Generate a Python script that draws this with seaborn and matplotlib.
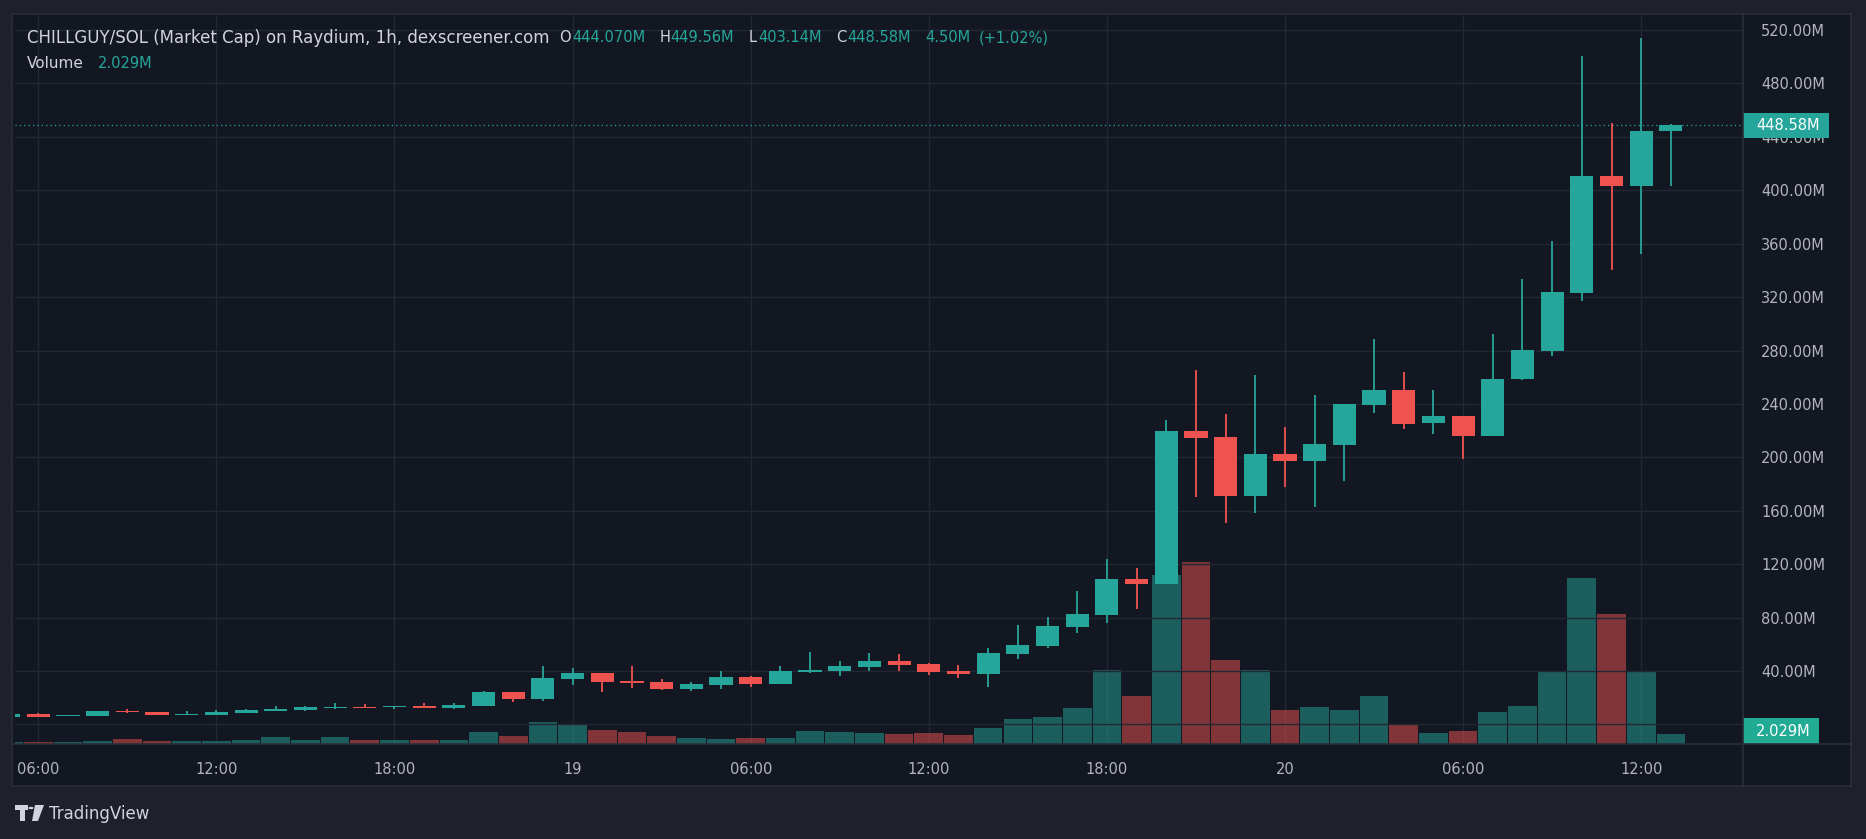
import numpy as np
import pandas as pd
import matplotlib
matplotlib.use("Agg")
import matplotlib.pyplot as plt
import seaborn as sns
from matplotlib.patches import Rectangle, Polygon, Circle
from matplotlib.lines import Line2D
from matplotlib import transforms

# ---------------- data (market cap in millions, hourly candles) ----------------
candle_times = pd.date_range("2024-11-18 05:00", periods=57, freq="h")

opens = [5.5, 7.8, 6.3, 6.3, 10.1, 9.3, 7.05, 7.05, 8.6, 10.1, 10.8, 12.3, 13.1, 13.1, 13.9, 12.3,
         13.9, 24.4, 19.2, 34.3, 38.8, 32.8, 32.0, 26.8, 29.8, 35.8, 30.5, 39.5, 40.3, 43.3, 47.8,
         45.5, 40.3, 38.0, 52.8, 58.8, 73.0, 82.0, 108.8, 105.3, 219.8, 215.3, 171.3, 202.5, 197.5,
         209.5, 239.5, 250.5, 225.4, 230.9, 215.8, 258.4, 280.0, 323.0, 410.7, 403.1, 444.07]
highs = [7.8, 8.6, 7.05, 10.1, 11.6, 9.3, 10.1, 10.8, 11.6, 13.9, 13.9, 16.1, 15.4, 13.9, 16.1, 16.1,
         25.2, 24.5, 44.0, 42.5, 38.8, 44.0, 34.3, 32.0, 40.3, 36.5, 44.0, 54.5, 47.8, 53.8, 53.0,
         46.3, 44.8, 57.5, 74.3, 80.3, 99.8, 123.8, 117.0, 228.0, 265.5, 232.5, 261.8, 222.8, 246.8,
         240.0, 288.8, 264.0, 250.5, 230.9, 292.4, 333.7, 361.9, 500.3, 450.2, 514.1, 449.56]
lows = [5.5, 5.5, 6.3, 6.3, 8.6, 7.05, 7.05, 7.05, 8.6, 10.1, 10.1, 11.6, 12.3, 11.6, 12.3, 11.6,
        13.9, 17.0, 17.8, 29.8, 24.5, 27.5, 26.0, 25.3, 26.8, 28.3, 30.5, 38.8, 36.5, 40.3, 40.3,
        37.3, 35.0, 28.3, 48.8, 57.3, 68.5, 76.0, 86.5, 105.0, 170.5, 151.0, 158.5, 178.0, 163.0,
        182.5, 233.5, 221.5, 217.2, 198.6, 215.8, 258.0, 276.0, 317.2, 340.5, 352.2, 403.14]
closes = [7.8, 5.5, 7.05, 10.1, 9.3, 7.05, 7.8, 9.3, 10.8, 11.6, 13.1, 13.1, 12.3, 13.9, 12.3, 14.6,
          24.4, 19.2, 35.0, 38.8, 32.0, 31.3, 26.8, 30.5, 35.8, 30.5, 40.3, 41.0, 44.0, 47.8, 44.8,
          39.5, 38.0, 53.8, 59.3, 73.5, 82.5, 108.8, 105.3, 219.8, 214.8, 171.3, 202.5, 197.5, 210.0,
          240.0, 250.5, 225.3, 230.9, 215.8, 258.8, 280.4, 323.7, 410.7, 403.1, 444.3, 448.58]
volumes = [0.4, 0.4, 0.4, 0.6, 1.0, 0.6, 0.6, 0.6, 0.8, 1.4, 0.8, 1.4, 0.8, 0.8, 0.8, 0.8,
           2.4, 1.6, 4.5, 3.85, 2.8, 2.4, 1.6, 1.2, 1.0, 1.2, 1.2, 2.6, 2.4, 2.2, 2.0,
           2.2, 1.8, 3.2, 5.1, 5.5, 7.3, 15.0, 9.7, 34.3, 36.9, 17.0, 15.0, 6.9, 7.5,
           6.9, 9.7, 3.85, 2.2, 2.6, 6.5, 7.8, 14.5, 33.6, 26.3, 14.9, 2.029]

time_tick_labels = ["06:00", "12:00", "18:00", "19", "06:00", "12:00", "18:00", "20", "06:00", "12:00"]
time_tick_times = pd.to_datetime(["2024-11-18 06:00", "2024-11-18 12:00", "2024-11-18 18:00",
                                  "2024-11-19 00:00", "2024-11-19 06:00", "2024-11-19 12:00",
                                  "2024-11-19 18:00", "2024-11-20 00:00", "2024-11-20 06:00",
                                  "2024-11-20 12:00"])
price_ticks = [0, 40, 80, 120, 160, 200, 240, 280, 320, 360, 400, 440, 480, 520]

last_price = 448.58
last_volume = 2.029

# ---------------- styling ----------------
BG = "#131722"
OUTER = "#1e212b"
GRID = "#232733"
BORDER = "#2a2e39"
TXT = "#d1d4dc"
AXT = "#b2b5be"
UP = "#26a69a"
DOWN = "#ef5350"

sns.set_theme(style="dark")
plt.rcParams["font.family"] = ["DejaVu Sans"]

t0 = pd.Timestamp("2024-11-18 06:00")
df = pd.DataFrame({
    "x": (candle_times - t0) / pd.Timedelta(hours=1),
    "open": opens, "high": highs, "low": lows, "close": closes, "volume": volumes,
})
df["dir"] = np.where(df["close"] >= df["open"], "up", "down")
tick_x = (time_tick_times - t0) / pd.Timedelta(hours=1)

W, H = 1866, 839
fig = plt.figure(figsize=(W / 100, H / 100), dpi=100)
fig.patch.set_facecolor(OUTER)


def fx(px):
    return px / W


def fy(py):
    return 1 - py / H


# chart frame (behind the axes)
fig.patches.append(Rectangle((fx(12), fy(786)), fx(1851) - fx(12), fy(14) - fy(786),
                             transform=fig.transFigure, facecolor=BG, edgecolor=BORDER,
                             lw=1.2, zorder=-5))

axv = fig.add_axes([fx(15), fy(744), fx(1743) - fx(15), fy(15) - fy(744)])
axv.set_facecolor(BG)
ax = axv.twinx()
ax.patch.set_visible(False)

# volume bars (seaborn)
sns.barplot(data=df, x="x", y="volume", hue="dir", palette={"up": UP, "down": DOWN},
            native_scale=True, width=0.965, dodge=False, errorbar=None, alpha=0.5,
            saturation=1, linewidth=0, legend=False, ax=axv)

# candles
colors = np.where(df["close"] >= df["open"], UP, DOWN)
ax.vlines(df["x"], df["low"], df["high"], colors=colors, lw=1.3, zorder=3)
body_bottom = np.minimum(df["open"], df["close"])
body_h = np.maximum(np.abs(df["close"] - df["open"]), 0.9)
ax.bar(df["x"], body_h, bottom=body_bottom, width=0.78, color=colors, linewidth=0, zorder=4)

# last price dotted line
ax.axhline(last_price, color=UP, lw=0.9, ls=(0, (1, 2.5)), zorder=2)

# limits
xlim = (-0.785, 57.43)
axv.set_xlim(*xlim)
ax.set_xlim(*xlim)
ax.set_ylim(-14.6, 531.2)
axv.set_ylim(0, 147.8)

# grids
axv.grid(False)
ax.grid(False)
for xv in tick_x:
    axv.axvline(xv, color=GRID, lw=1, zorder=0)
ax.set_axisbelow(True)
ax.set_yticks(price_ticks)
ax.set_yticklabels(["" if v == 0 else f"{v:.2f}M" for v in price_ticks])
ax.yaxis.grid(True, color=GRID, lw=1)
ax.tick_params(axis="y", which="both", length=0, pad=13, labelsize=10.5, labelcolor=AXT)

axv.set_yticks([])
axv.set_ylabel("")
axv.set_xlabel("")
axv.set_xticks(tick_x)
axv.set_xticklabels(time_tick_labels)
axv.tick_params(axis="x", length=0, pad=13, labelsize=10.5, labelcolor=AXT)

for a in (ax, axv):
    for s in a.spines.values():
        s.set_visible(False)

# separators
fig.lines.append(Line2D([fx(1743), fx(1743)], [fy(14), fy(786)], transform=fig.transFigure,
                        color=BORDER, lw=1.2))
fig.lines.append(Line2D([fx(12), fx(1851)], [fy(744), fy(744)], transform=fig.transFigure,
                        color=BORDER, lw=1.2))

# last price label
tr_p = transforms.blended_transform_factory(fig.transFigure, ax.transData)
ax.add_patch(Rectangle((fx(1743), last_price - 9.6), fx(1829) - fx(1743), 19.2,
                       transform=tr_p, facecolor=UP, edgecolor="none", clip_on=False, zorder=10))
ax.text(fx(1756), last_price, f"{last_price:.2f}M", transform=tr_p, ha="left", va="center",
        color="white", fontsize=10.5, clip_on=False, zorder=11)

# last volume label
tr_v = transforms.blended_transform_factory(fig.transFigure, axv.transData)
axv.add_patch(Rectangle((fx(1743), 0), fx(1819) - fx(1743), 5.2, transform=tr_v,
                        facecolor="#22ab94", edgecolor="none", clip_on=False, zorder=10))
axv.text(fx(1756), 2.6, f"{last_volume:.3f}M", transform=tr_v, ha="left", va="center",
         color="white", fontsize=10.5, clip_on=False, zorder=11)

# header
hy = fy(38)
fs = 10.5
fig.text(fx(27), hy, "CHILLGUY/SOL (Market Cap) on Raydium, 1h, dexscreener.com",
         color=TXT, fontsize=12.0, va="center")
for lab, lx, val, vx in [("O", 559, "444.070M", 572), ("H", 660, "449.56M", 670),
                         ("L", 749, "403.14M", 758), ("C", 836, "448.58M", 847)]:
    fig.text(fx(lx), hy, lab, color=TXT, fontsize=fs, va="center")
    fig.text(fx(vx), hy, val, color=UP, fontsize=fs, va="center")
fig.text(fx(925), hy, "4.50M", color=UP, fontsize=fs, va="center")
fig.text(fx(979), hy, "(+1.02%)", color=UP, fontsize=fs, va="center")
fig.text(fx(27), fy(64), "Volume", color=TXT, fontsize=11, va="center")
fig.text(fx(98), fy(64), "2.029M", color=UP, fontsize=fs, va="center")

# TradingView logo
LOGO = "#d1d4dc"
fig.patches.append(Rectangle((fx(15), fy(810)), fx(28) - fx(15), fy(805) - fy(810),
                             transform=fig.transFigure, facecolor=LOGO, edgecolor="none"))
fig.patches.append(Rectangle((fx(20), fy(821)), fx(25) - fx(20), fy(805) - fy(821),
                             transform=fig.transFigure, facecolor=LOGO, edgecolor="none"))
fig.patches.append(Circle((fx(31), fy(808)), 2.6 / W, transform=fig.transFigure,
                          facecolor=LOGO, edgecolor="none"))
fig.patches.append(Polygon([(fx(35), fy(805)), (fx(44), fy(805)), (fx(38), fy(821)),
                            (fx(32), fy(821))], closed=True, transform=fig.transFigure,
                           facecolor=LOGO, edgecolor="none"))
fig.text(fx(49), fy(814), "TradingView", color=LOGO, fontsize=12, va="center")

fig.savefig("out.png", dpi=100, facecolor=OUTER)
